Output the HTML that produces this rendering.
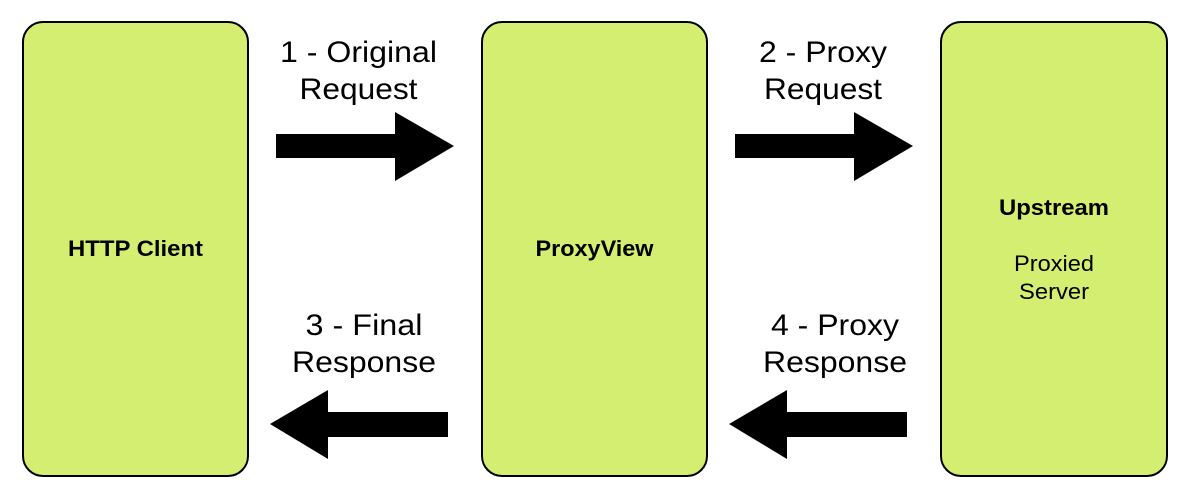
<!DOCTYPE html>
<html><head><style>
html,body{margin:0;padding:0;background:#fff;width:1190px;height:498px;overflow:hidden}
svg text{font-family:"Liberation Sans",Arial,sans-serif}
</style></head><body>
<svg width="1190" height="498" viewBox="0 0 1190 498" xmlns="http://www.w3.org/2000/svg">
<g fill="#d4ee72" stroke="#000" stroke-width="2">
<rect x="23" y="22" width="225" height="454" rx="20"/>
<rect x="482" y="22" width="225" height="454" rx="20"/>
<rect x="941" y="22" width="226" height="454" rx="20"/>
</g>
<g fill="#000">
<polygon points="276,134 395,134 395,112 454,146 395,181 395,158 276,158"/>
<polygon points="735,134 854,134 854,112 913,146 854,181 854,158 735,158"/>
<polygon points="270,424 328,390 328,412 448,412 448,437 328,437 328,459"/>
<polygon points="729,424 787,390 787,412 907,412 907,437 787,437 787,459"/>
</g>
<g font-size="22" font-weight="bold" text-anchor="middle" fill="#000">
<text x="135.5" y="256" textLength="135" lengthAdjust="spacingAndGlyphs">HTTP Client</text>
<text x="594.5" y="256" textLength="118" lengthAdjust="spacingAndGlyphs">ProxyView</text>
<text x="1054" y="215" textLength="110" lengthAdjust="spacingAndGlyphs">Upstream</text>
</g>
<g font-size="22" text-anchor="middle" fill="#000">
<text x="1054" y="271" textLength="80" lengthAdjust="spacingAndGlyphs">Proxied</text>
<text x="1054" y="299" textLength="70" lengthAdjust="spacingAndGlyphs">Server</text>
</g>
<g font-size="30" text-anchor="middle" fill="#000">
<text x="358.5" y="62" textLength="157" lengthAdjust="spacingAndGlyphs">1 - Original</text>
<text x="358.5" y="99" textLength="118" lengthAdjust="spacingAndGlyphs">Request</text>
<text x="823" y="62" textLength="128" lengthAdjust="spacingAndGlyphs">2 - Proxy</text>
<text x="823" y="99" textLength="118" lengthAdjust="spacingAndGlyphs">Request</text>
<text x="364" y="335" textLength="117" lengthAdjust="spacingAndGlyphs">3 - Final</text>
<text x="364" y="372" textLength="144" lengthAdjust="spacingAndGlyphs">Response</text>
<text x="835" y="335" textLength="128" lengthAdjust="spacingAndGlyphs">4 - Proxy</text>
<text x="835" y="372" textLength="144" lengthAdjust="spacingAndGlyphs">Response</text>
</g>
</svg>
</body></html>
